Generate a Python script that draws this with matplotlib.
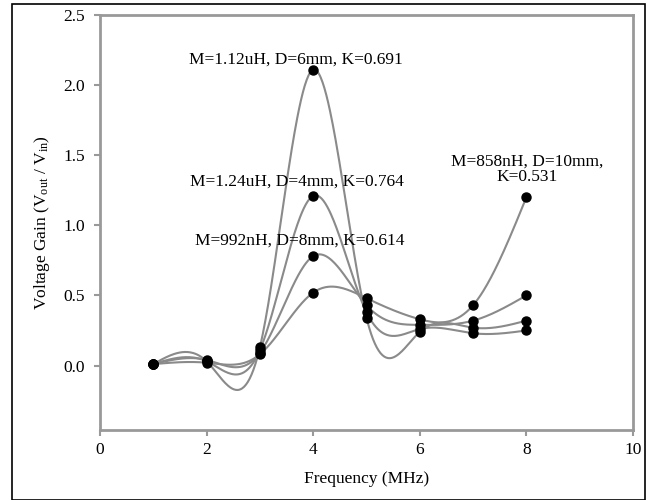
import numpy as np
import matplotlib
matplotlib.use("Agg")
import matplotlib.pyplot as plt
from matplotlib.patches import Rectangle

plt.rcParams['font.family'] = ['Liberation Serif', 'DejaVu Serif']
plt.rcParams['mathtext.fontset'] = 'custom'
plt.rcParams['mathtext.rm'] = 'Liberation Serif'
plt.rcParams['mathtext.it'] = 'Liberation Serif:italic'

# frequency points (MHz)
freq = [1, 2, 3, 4, 5, 6, 7, 8]

# voltage gain, one list per coil setup
gain_112uH = [0.01, 0.03, 0.13, 2.11, 0.34, 0.24, 0.27, 0.32]
gain_124uH = [0.01, 0.03, 0.11, 1.21, 0.38, 0.26, 0.23, 0.25]
gain_992nH = [0.01, 0.04, 0.09, 0.78, 0.43, 0.29, 0.32, 0.50]
gain_858nH = [0.01, 0.02, 0.08, 0.52, 0.48, 0.33, 0.43, 1.20]

labels = ["M=1.12uH, D=6mm, K=0.691",
          "M=1.24uH, D=4mm, K=0.764",
          "M=992nH, D=8mm, K=0.614",
          "M=858nH, D=10mm,\nK=0.531"]
label_x = [3.68, 3.70, 3.74, 8.02]
label_y = [2.18, 1.31, 0.89, 1.40]


# natural cubic spline, used only to draw the smoothed line between markers
def smooth(x, y, n=400):
    x = np.asarray(x, float)
    y = np.asarray(y, float)
    k = len(x)
    h = np.diff(x)
    A = np.zeros((k, k))
    b = np.zeros(k)
    A[0, 0] = 1
    A[-1, -1] = 1
    for i in range(1, k - 1):
        A[i, i - 1] = h[i - 1]
        A[i, i] = 2 * (h[i - 1] + h[i])
        A[i, i + 1] = h[i]
        b[i] = 3 * ((y[i + 1] - y[i]) / h[i] - (y[i] - y[i - 1]) / h[i - 1])
    c = np.linalg.solve(A, b)
    xs = np.linspace(x[0], x[-1], n)
    idx = np.clip(np.searchsorted(x, xs) - 1, 0, k - 2)
    dx = xs - x[idx]
    bb = (y[idx + 1] - y[idx]) / h[idx] - h[idx] * (2 * c[idx] + c[idx + 1]) / 3
    dd = (c[idx + 1] - c[idx]) / (3 * h[idx])
    ys = y[idx] + bb * dx + c[idx] * dx ** 2 + dd * dx ** 3
    return xs, ys


fig = plt.figure(figsize=(6.49, 5.0), dpi=100)
ax = fig.add_axes([100 / 649, 1 - 430 / 500, 533 / 649, 415 / 500])

for g in [gain_112uH, gain_124uH, gain_992nH, gain_858nH]:
    xs, ys = smooth(freq, g)
    ax.plot(xs, ys, color='#8a8a8a', lw=1.5, zorder=2)
    ax.plot(freq, g, 'o', color='black', ms=6.5, zorder=3)

for t, lx, ly in zip(labels, label_x, label_y):
    ax.text(lx, ly, t, ha='center', va='center', fontsize=12.5, linespacing=0.95)

ax.set_xlim(0, 10)
ax.set_ylim(-0.46, 2.5)
ax.set_xticks([0, 2, 4, 6, 8, 10])
ax.set_yticks([0.0, 0.5, 1.0, 1.5, 2.0, 2.5])
ax.set_yticklabels(['0.0', '0.5', '1.0', '1.5', '2.0', '2.5'])
ax.tick_params(labelsize=12.5, color='#999999', width=1.5, length=4)
ax.tick_params(axis='x', pad=5)
ax.tick_params(axis='y', pad=7)
for s in ax.spines.values():
    s.set_color('#999999')
    s.set_linewidth(2)

ax.set_xlabel('Frequency (MHz)', fontsize=12.5, labelpad=9)
ax.set_ylabel(r'Voltage Gain (V$_{\mathrm{out}}$ / V$_{\mathrm{in}}$)', fontsize=12.5, labelpad=8)

# thin black frame around the whole picture
fig.patches.append(Rectangle((12 / 649, 0.0), 633 / 649, 496 / 500, transform=fig.transFigure,
                             fill=False, edgecolor='black', lw=1.2))

fig.savefig('out.png', dpi=100)
